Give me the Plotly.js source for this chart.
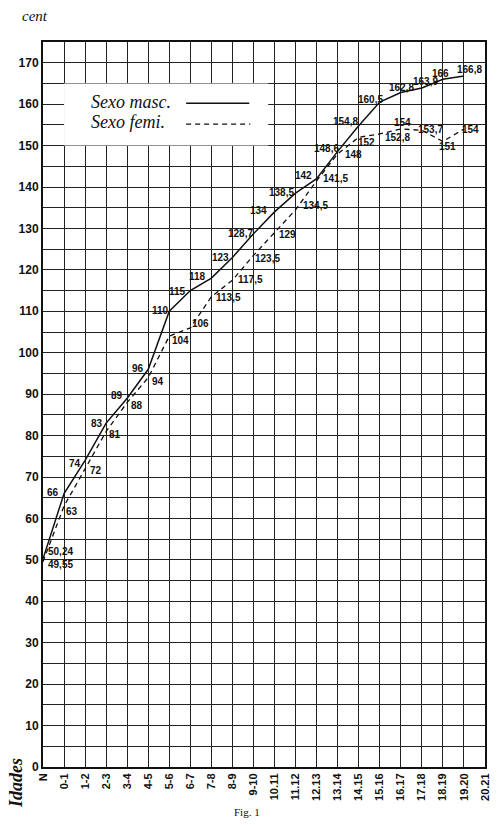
<!DOCTYPE html>
<html>
<head>
<meta charset="utf-8">
<script src="https://cdn.plot.ly/plotly-3.0.1.min.js"></script>
<style>
  html, body { margin: 0; padding: 0; background: #fff; }
  #chart { width: 500px; height: 825px; }
</style>
</head>
<body>
<div id="chart"></div>
<script>
// Age groups (Idades) along the bottom axis
const ages = ["N", "0-1", "1-2", "2-3", "3-4", "4-5", "5-6", "6-7", "7-8", "8-9", "9-10",
  "10.11", "11.12", "12.13", "13.14", "14.15", "15.16", "16.17", "17.18", "18.19", "19.20", "20.21"];

// Mean stature in centimetres
const maleHeight = [50.24, 66, 74, 83, 89, 96, 110, 115, 118, 123, 128.7, 134, 138.5, 142,
  148.6, 154.8, 160.5, 162.8, 163.9, 166, 166.8];
const femaleHeight = [49.55, 63, 72, 81, 88, 94, 104, 106, 113.5, 117.5, 123.5, 129, 134.5,
  141.5, 148, 152, 152.8, 154, 153.7, 151, 154];

// Y tick labels
const heightTicks = [0, 10, 20, 30, 40, 50, 60, 70, 80, 90, 100, 110, 120, 130, 140, 150, 160, 170];

// Pixel offsets of each value label from its point [dx, dy]
const maleLabelShift = [[17, 7], [-11, 1], [-10, -3], [-9, 0], [-10, 3], [-10, 1], [-9, 1],
  [-13, -1], [-14, 2], [-12, 0], [-13, 0], [-16, 1], [-14, 1], [-13, 3], [-11, 3], [-13, 4],
  [-9, 3], [1, 5], [4, 6], [-2, 6], [6, 6]];
const femaleLabelShift = [[17, -3], [8, -5], [11, -2], [9, -3], [10, -3], [10, -4], [11, -4],
  [10, 4], [17, -1], [18, 1], [14, -3], [13, -2], [20, 4], [19, 2], [16, -1], [8, -5],
  [18, -4], [2, 7], [9, 1], [5, -5], [7, 0]];

const W = 500, H = 825, L = 43, R = 15, T = 42, B = 58;
const pw = W - L - R, ph = H - T - B;
const paperX = px => (px - L) / pw;
const paperY = py => (H - B - py) / ph;

const xIdx = ages.map((_, i) => i);
const fmt = v => String(v).replace('.', ',');

const male = {
  x: xIdx.slice(0, maleHeight.length), y: maleHeight, type: 'scatter', mode: 'lines',
  line: { color: '#111', width: 1.5 }, hoverinfo: 'skip', showlegend: false
};
const female = {
  x: xIdx.slice(0, femaleHeight.length), y: femaleHeight, type: 'scatter', mode: 'lines',
  line: { color: '#111', width: 1.3, dash: '5px,4px' }, hoverinfo: 'skip', showlegend: false
};

const labelFont = { family: 'Liberation Sans, Arial, sans-serif', size: 10, color: '#111' };
const annotations = [];
maleHeight.forEach((v, i) => {
  annotations.push({ x: i, y: v, xref: 'x', yref: 'y', text: '<b>' + fmt(v) + '</b>',
    showarrow: false, xshift: maleLabelShift[i][0], yshift: maleLabelShift[i][1], font: labelFont });
});
femaleHeight.forEach((v, i) => {
  annotations.push({ x: i, y: v, xref: 'x', yref: 'y', text: '<b>' + fmt(v) + '</b>',
    showarrow: false, xshift: femaleLabelShift[i][0], yshift: femaleLabelShift[i][1], font: labelFont });
});

const scriptFont = { family: 'Liberation Serif, DejaVu Serif, serif', color: '#111' };
// key text
annotations.push({ x: 4.2, y: 160.6, xref: 'x', yref: 'y', showarrow: false,
  text: '<i>Sexo masc.</i>', font: Object.assign({ size: 18 }, scriptFont) });
annotations.push({ x: 4.05, y: 155.6, xref: 'x', yref: 'y', showarrow: false,
  text: '<i>Sexo femi.</i>', font: Object.assign({ size: 18 }, scriptFont) });
// unit, axis caption, figure number
annotations.push({ x: paperX(35), y: paperY(16), xref: 'paper', yref: 'paper', showarrow: false,
  xanchor: 'center', yanchor: 'middle', text: '<i>cent</i>', font: Object.assign({ size: 15 }, scriptFont) });
annotations.push({ x: paperX(16), y: paperY(783), xref: 'paper', yref: 'paper', showarrow: false,
  xanchor: 'center', yanchor: 'middle', text: '<b><i>Idades</i></b>', textangle: -90,
  font: Object.assign({ size: 18 }, scriptFont) });
annotations.push({ x: paperX(247), y: paperY(812), xref: 'paper', yref: 'paper', showarrow: false,
  xanchor: 'center', yanchor: 'middle', text: 'Fig. 1', font: Object.assign({ size: 11 }, scriptFont) });

const shapes = [
  // white key box
  { type: 'rect', xref: 'x', yref: 'y', x0: 1, x1: 10.7, y0: 150, y1: 165,
    fillcolor: '#fff', line: { width: 0 }, layer: 'above' },
  { type: 'line', xref: 'x', yref: 'y', x0: 6.8, x1: 9.8, y0: 160.2, y1: 160.2,
    line: { color: '#111', width: 1.5 }, layer: 'above' },
  { type: 'line', xref: 'x', yref: 'y', x0: 6.8, x1: 9.85, y0: 155.2, y1: 155.2,
    line: { color: '#111', width: 1.3, dash: '5px,4px' }, layer: 'above' }
];

const layout = {
  width: W, height: H,
  margin: { l: L, r: R, t: T, b: B },
  paper_bgcolor: '#fff', plot_bgcolor: '#fff',
  showlegend: false,
  xaxis: {
    range: [0, 21], tickmode: 'array', tickvals: xIdx, ticktext: ages.map(a => '<b>' + a + '</b>'),
    tickangle: -90, ticks: '', showgrid: true, gridcolor: '#222', gridwidth: 1,
    zeroline: false, showline: true, linecolor: '#111', linewidth: 2, mirror: true,
    tickfont: { family: 'Liberation Sans, Arial, sans-serif', size: 11, color: '#111' }, fixedrange: true
  },
  yaxis: {
    range: [0, 175], tickmode: 'array', tickvals: heightTicks,
    ticktext: heightTicks.map(t => '<b>' + t + '</b>'),
    ticks: '', showgrid: true, gridcolor: '#222', gridwidth: 1,
    minor: { dtick: 5, tick0: 0, showgrid: true, gridcolor: '#222', gridwidth: 1, ticks: '' },
    zeroline: false, showline: true, linecolor: '#111', linewidth: 2, mirror: true,
    tickfont: { family: 'Liberation Sans, Arial, sans-serif', size: 12, color: '#111' }, fixedrange: true
  },
  annotations: annotations,
  shapes: shapes
};

Plotly.newPlot('chart', [male, female], layout, { displayModeBar: false, staticPlot: true });
</script>
</body>
</html>
